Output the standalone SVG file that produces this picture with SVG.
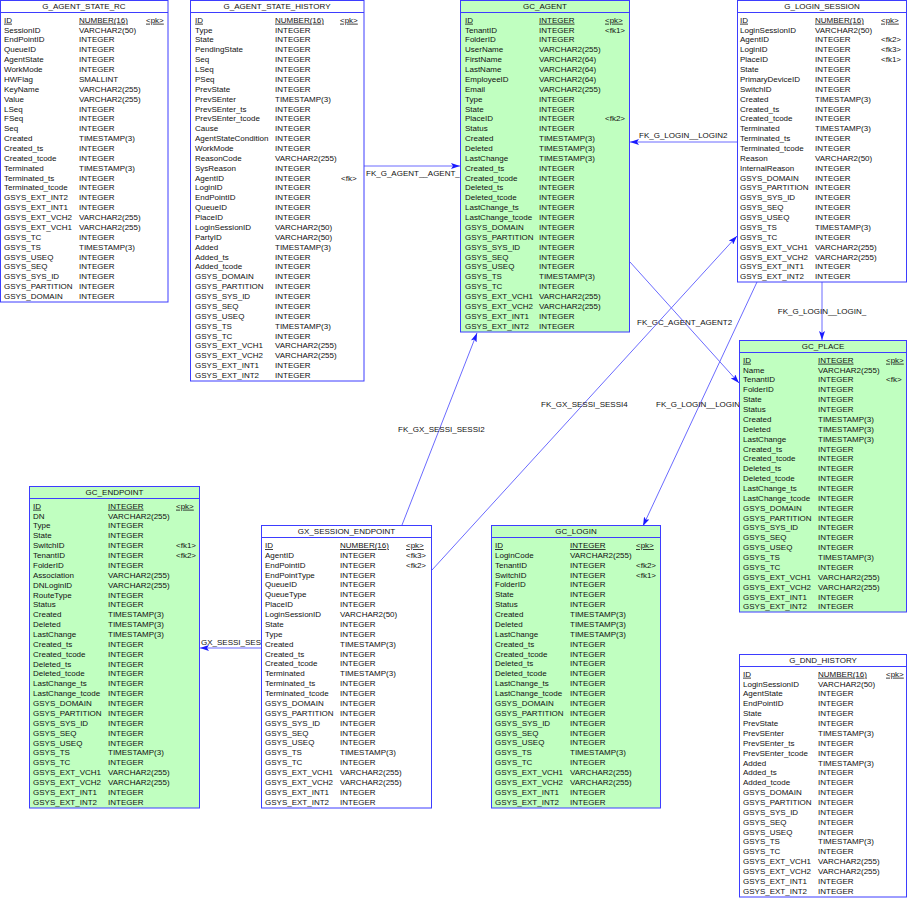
<svg xmlns="http://www.w3.org/2000/svg" width="907" height="899" viewBox="0 0 907 899">
<style>
text{font-family:"Liberation Sans",Arial,sans-serif;font-size:8px;fill:#111}
.tb{fill:#fff;stroke:#3d3dff;stroke-width:1}
.g .tb{fill:#c0ffc0}
.hl{stroke:#3d3dff;stroke-width:1}
.ti{text-anchor:middle}
.u{text-decoration:underline}
.c{stroke:#6b6bff;stroke-width:1;fill:none;marker-end:url(#ah)}
.lb{fill:#111}
</style>
<defs>
<marker id="ah" markerWidth="9" markerHeight="6" refX="9" refY="3" orient="auto" markerUnits="userSpaceOnUse"><path d="M0,0 L9,3 L0,6 L2,3 z" fill="#1a1aff"/></marker>
</defs>
<rect width="907" height="899" fill="#fff"/>
<g id="connectors">
<line class="c" x1="364" y1="166" x2="460" y2="166"/>
<text class="lb" x="366" y="176">FK_G_AGENT__AGENT_</text>
<line class="c" x1="737" y1="142" x2="630" y2="142"/>
<text class="lb" x="639" y="138">FK_G_LOGIN__LOGIN2</text>
<line class="c" x1="630" y1="262" x2="739" y2="383"/>
<text class="lb" x="637" y="325">FK_GC_AGENT_AGENT2</text>
<line class="c" x1="432" y1="570" x2="737" y2="236"/>
<text class="lb" x="541" y="407">FK_GX_SESSI_SESSI4</text>
<line class="c" x1="757" y1="282" x2="643" y2="526"/>
<text class="lb" x="656" y="407">FK_G_LOGIN__LOGIN</text>
<line class="c" x1="822" y1="282" x2="822" y2="340"/>
<text class="lb ti" x="822" y="314">FK_G_LOGIN__LOGIN_</text>
<line class="c" x1="402" y1="525" x2="477" y2="333"/>
<text class="lb" x="398" y="432">FK_GX_SESSI_SESSI2</text>
<line class="c" x1="261" y1="648" x2="200" y2="648"/>
<text class="lb" x="201" y="645">GX_SESSI_SES</text>
</g>

<g id="G_AGENT_STATE_RC">
<rect class="tb" x="0.5" y="0.5" width="167.5" height="301.5"/>
<line class="hl" x1="0.5" y1="12.5" x2="168" y2="12.5"/>
<text class="ti" x="84" y="9.3">G_AGENT_STATE_RC</text>
<text x="4" y="22.7"><tspan class="u">ID</tspan><tspan x="4" dy="9.87">SessionID</tspan><tspan x="4" dy="9.87">EndPointID</tspan><tspan x="4" dy="9.87">QueueID</tspan><tspan x="4" dy="9.87">AgentState</tspan><tspan x="4" dy="9.87">WorkMode</tspan><tspan x="4" dy="9.87">HWFlag</tspan><tspan x="4" dy="9.87">KeyName</tspan><tspan x="4" dy="9.87">Value</tspan><tspan x="4" dy="9.87">LSeq</tspan><tspan x="4" dy="9.87">FSeq</tspan><tspan x="4" dy="9.87">Seq</tspan><tspan x="4" dy="9.87">Created</tspan><tspan x="4" dy="9.87">Created_ts</tspan><tspan x="4" dy="9.87">Created_tcode</tspan><tspan x="4" dy="9.87">Terminated</tspan><tspan x="4" dy="9.87">Terminated_ts</tspan><tspan x="4" dy="9.87">Terminated_tcode</tspan><tspan x="4" dy="9.87">GSYS_EXT_INT2</tspan><tspan x="4" dy="9.87">GSYS_EXT_INT1</tspan><tspan x="4" dy="9.87">GSYS_EXT_VCH2</tspan><tspan x="4" dy="9.87">GSYS_EXT_VCH1</tspan><tspan x="4" dy="9.87">GSYS_TC</tspan><tspan x="4" dy="9.87">GSYS_TS</tspan><tspan x="4" dy="9.87">GSYS_USEQ</tspan><tspan x="4" dy="9.87">GSYS_SEQ</tspan><tspan x="4" dy="9.87">GSYS_SYS_ID</tspan><tspan x="4" dy="9.87">GSYS_PARTITION</tspan><tspan x="4" dy="9.87">GSYS_DOMAIN</tspan></text>
<text x="79" y="22.7"><tspan class="u">NUMBER(16)</tspan><tspan x="79" dy="9.87">VARCHAR2(50)</tspan><tspan x="79" dy="9.87">INTEGER</tspan><tspan x="79" dy="9.87">INTEGER</tspan><tspan x="79" dy="9.87">INTEGER</tspan><tspan x="79" dy="9.87">INTEGER</tspan><tspan x="79" dy="9.87">SMALLINT</tspan><tspan x="79" dy="9.87">VARCHAR2(255)</tspan><tspan x="79" dy="9.87">VARCHAR2(255)</tspan><tspan x="79" dy="9.87">INTEGER</tspan><tspan x="79" dy="9.87">INTEGER</tspan><tspan x="79" dy="9.87">INTEGER</tspan><tspan x="79" dy="9.87">TIMESTAMP(3)</tspan><tspan x="79" dy="9.87">INTEGER</tspan><tspan x="79" dy="9.87">INTEGER</tspan><tspan x="79" dy="9.87">TIMESTAMP(3)</tspan><tspan x="79" dy="9.87">INTEGER</tspan><tspan x="79" dy="9.87">INTEGER</tspan><tspan x="79" dy="9.87">INTEGER</tspan><tspan x="79" dy="9.87">INTEGER</tspan><tspan x="79" dy="9.87">VARCHAR2(255)</tspan><tspan x="79" dy="9.87">VARCHAR2(255)</tspan><tspan x="79" dy="9.87">INTEGER</tspan><tspan x="79" dy="9.87">TIMESTAMP(3)</tspan><tspan x="79" dy="9.87">INTEGER</tspan><tspan x="79" dy="9.87">INTEGER</tspan><tspan x="79" dy="9.87">INTEGER</tspan><tspan x="79" dy="9.87">INTEGER</tspan><tspan x="79" dy="9.87">INTEGER</tspan></text>
<text class="u" x="146" y="22.7">&lt;pk&gt;</text>
</g>

<g id="G_AGENT_STATE_HISTORY">
<rect class="tb" x="190.5" y="0.5" width="173.5" height="380.5"/>
<line class="hl" x1="190.5" y1="12.5" x2="364" y2="12.5"/>
<text class="ti" x="277" y="9.3">G_AGENT_STATE_HISTORY</text>
<text x="195" y="22.7"><tspan class="u">ID</tspan><tspan x="195" dy="9.87">Type</tspan><tspan x="195" dy="9.87">State</tspan><tspan x="195" dy="9.87">PendingState</tspan><tspan x="195" dy="9.87">Seq</tspan><tspan x="195" dy="9.87">LSeq</tspan><tspan x="195" dy="9.87">PSeq</tspan><tspan x="195" dy="9.87">PrevState</tspan><tspan x="195" dy="9.87">PrevSEnter</tspan><tspan x="195" dy="9.87">PrevSEnter_ts</tspan><tspan x="195" dy="9.87">PrevSEnter_tcode</tspan><tspan x="195" dy="9.87">Cause</tspan><tspan x="195" dy="9.87">AgentStateCondition</tspan><tspan x="195" dy="9.87">WorkMode</tspan><tspan x="195" dy="9.87">ReasonCode</tspan><tspan x="195" dy="9.87">SysReason</tspan><tspan x="195" dy="9.87">AgentID</tspan><tspan x="195" dy="9.87">LoginID</tspan><tspan x="195" dy="9.87">EndPointID</tspan><tspan x="195" dy="9.87">QueueID</tspan><tspan x="195" dy="9.87">PlaceID</tspan><tspan x="195" dy="9.87">LoginSessionID</tspan><tspan x="195" dy="9.87">PartyID</tspan><tspan x="195" dy="9.87">Added</tspan><tspan x="195" dy="9.87">Added_ts</tspan><tspan x="195" dy="9.87">Added_tcode</tspan><tspan x="195" dy="9.87">GSYS_DOMAIN</tspan><tspan x="195" dy="9.87">GSYS_PARTITION</tspan><tspan x="195" dy="9.87">GSYS_SYS_ID</tspan><tspan x="195" dy="9.87">GSYS_SEQ</tspan><tspan x="195" dy="9.87">GSYS_USEQ</tspan><tspan x="195" dy="9.87">GSYS_TS</tspan><tspan x="195" dy="9.87">GSYS_TC</tspan><tspan x="195" dy="9.87">GSYS_EXT_VCH1</tspan><tspan x="195" dy="9.87">GSYS_EXT_VCH2</tspan><tspan x="195" dy="9.87">GSYS_EXT_INT1</tspan><tspan x="195" dy="9.87">GSYS_EXT_INT2</tspan></text>
<text x="275" y="22.7"><tspan class="u">NUMBER(16)</tspan><tspan x="275" dy="9.87">INTEGER</tspan><tspan x="275" dy="9.87">INTEGER</tspan><tspan x="275" dy="9.87">INTEGER</tspan><tspan x="275" dy="9.87">INTEGER</tspan><tspan x="275" dy="9.87">INTEGER</tspan><tspan x="275" dy="9.87">INTEGER</tspan><tspan x="275" dy="9.87">INTEGER</tspan><tspan x="275" dy="9.87">TIMESTAMP(3)</tspan><tspan x="275" dy="9.87">INTEGER</tspan><tspan x="275" dy="9.87">INTEGER</tspan><tspan x="275" dy="9.87">INTEGER</tspan><tspan x="275" dy="9.87">INTEGER</tspan><tspan x="275" dy="9.87">INTEGER</tspan><tspan x="275" dy="9.87">VARCHAR2(255)</tspan><tspan x="275" dy="9.87">INTEGER</tspan><tspan x="275" dy="9.87">INTEGER</tspan><tspan x="275" dy="9.87">INTEGER</tspan><tspan x="275" dy="9.87">INTEGER</tspan><tspan x="275" dy="9.87">INTEGER</tspan><tspan x="275" dy="9.87">INTEGER</tspan><tspan x="275" dy="9.87">VARCHAR2(50)</tspan><tspan x="275" dy="9.87">VARCHAR2(50)</tspan><tspan x="275" dy="9.87">TIMESTAMP(3)</tspan><tspan x="275" dy="9.87">INTEGER</tspan><tspan x="275" dy="9.87">INTEGER</tspan><tspan x="275" dy="9.87">INTEGER</tspan><tspan x="275" dy="9.87">INTEGER</tspan><tspan x="275" dy="9.87">INTEGER</tspan><tspan x="275" dy="9.87">INTEGER</tspan><tspan x="275" dy="9.87">INTEGER</tspan><tspan x="275" dy="9.87">TIMESTAMP(3)</tspan><tspan x="275" dy="9.87">INTEGER</tspan><tspan x="275" dy="9.87">VARCHAR2(255)</tspan><tspan x="275" dy="9.87">VARCHAR2(255)</tspan><tspan x="275" dy="9.87">INTEGER</tspan><tspan x="275" dy="9.87">INTEGER</tspan></text>
<text class="u" x="340" y="22.7">&lt;pk&gt;</text>
<text x="341" y="180.6">&lt;fk&gt;</text>
</g>

<g id="GC_AGENT" class="g">
<rect class="tb" x="460.5" y="0.5" width="169" height="331.5"/>
<line class="hl" x1="460.5" y1="12.5" x2="629.5" y2="12.5"/>
<text class="ti" x="545" y="9.3">GC_AGENT</text>
<text x="465" y="22.7"><tspan class="u">ID</tspan><tspan x="465" dy="9.87">TenantID</tspan><tspan x="465" dy="9.87">FolderID</tspan><tspan x="465" dy="9.87">UserName</tspan><tspan x="465" dy="9.87">FirstName</tspan><tspan x="465" dy="9.87">LastName</tspan><tspan x="465" dy="9.87">EmployeeID</tspan><tspan x="465" dy="9.87">Email</tspan><tspan x="465" dy="9.87">Type</tspan><tspan x="465" dy="9.87">State</tspan><tspan x="465" dy="9.87">PlaceID</tspan><tspan x="465" dy="9.87">Status</tspan><tspan x="465" dy="9.87">Created</tspan><tspan x="465" dy="9.87">Deleted</tspan><tspan x="465" dy="9.87">LastChange</tspan><tspan x="465" dy="9.87">Created_ts</tspan><tspan x="465" dy="9.87">Created_tcode</tspan><tspan x="465" dy="9.87">Deleted_ts</tspan><tspan x="465" dy="9.87">Deleted_tcode</tspan><tspan x="465" dy="9.87">LastChange_ts</tspan><tspan x="465" dy="9.87">LastChange_tcode</tspan><tspan x="465" dy="9.87">GSYS_DOMAIN</tspan><tspan x="465" dy="9.87">GSYS_PARTITION</tspan><tspan x="465" dy="9.87">GSYS_SYS_ID</tspan><tspan x="465" dy="9.87">GSYS_SEQ</tspan><tspan x="465" dy="9.87">GSYS_USEQ</tspan><tspan x="465" dy="9.87">GSYS_TS</tspan><tspan x="465" dy="9.87">GSYS_TC</tspan><tspan x="465" dy="9.87">GSYS_EXT_VCH1</tspan><tspan x="465" dy="9.87">GSYS_EXT_VCH2</tspan><tspan x="465" dy="9.87">GSYS_EXT_INT1</tspan><tspan x="465" dy="9.87">GSYS_EXT_INT2</tspan></text>
<text x="539" y="22.7"><tspan class="u">INTEGER</tspan><tspan x="539" dy="9.87">INTEGER</tspan><tspan x="539" dy="9.87">INTEGER</tspan><tspan x="539" dy="9.87">VARCHAR2(255)</tspan><tspan x="539" dy="9.87">VARCHAR2(64)</tspan><tspan x="539" dy="9.87">VARCHAR2(64)</tspan><tspan x="539" dy="9.87">VARCHAR2(64)</tspan><tspan x="539" dy="9.87">VARCHAR2(255)</tspan><tspan x="539" dy="9.87">INTEGER</tspan><tspan x="539" dy="9.87">INTEGER</tspan><tspan x="539" dy="9.87">INTEGER</tspan><tspan x="539" dy="9.87">INTEGER</tspan><tspan x="539" dy="9.87">TIMESTAMP(3)</tspan><tspan x="539" dy="9.87">TIMESTAMP(3)</tspan><tspan x="539" dy="9.87">TIMESTAMP(3)</tspan><tspan x="539" dy="9.87">INTEGER</tspan><tspan x="539" dy="9.87">INTEGER</tspan><tspan x="539" dy="9.87">INTEGER</tspan><tspan x="539" dy="9.87">INTEGER</tspan><tspan x="539" dy="9.87">INTEGER</tspan><tspan x="539" dy="9.87">INTEGER</tspan><tspan x="539" dy="9.87">INTEGER</tspan><tspan x="539" dy="9.87">INTEGER</tspan><tspan x="539" dy="9.87">INTEGER</tspan><tspan x="539" dy="9.87">INTEGER</tspan><tspan x="539" dy="9.87">INTEGER</tspan><tspan x="539" dy="9.87">TIMESTAMP(3)</tspan><tspan x="539" dy="9.87">INTEGER</tspan><tspan x="539" dy="9.87">VARCHAR2(255)</tspan><tspan x="539" dy="9.87">VARCHAR2(255)</tspan><tspan x="539" dy="9.87">INTEGER</tspan><tspan x="539" dy="9.87">INTEGER</tspan></text>
<text class="u" x="605" y="22.7">&lt;pk&gt;</text>
<text x="605" y="32.57">&lt;fk1&gt;</text>
<text x="605" y="121.4">&lt;fk2&gt;</text>
</g>

<g id="G_LOGIN_SESSION">
<rect class="tb" x="737.5" y="0.5" width="169" height="281.5"/>
<line class="hl" x1="737.5" y1="12.5" x2="906.5" y2="12.5"/>
<text class="ti" x="822" y="9.3">G_LOGIN_SESSION</text>
<text x="740" y="22.7"><tspan class="u">ID</tspan><tspan x="740" dy="9.87">LoginSessionID</tspan><tspan x="740" dy="9.87">AgentID</tspan><tspan x="740" dy="9.87">LoginID</tspan><tspan x="740" dy="9.87">PlaceID</tspan><tspan x="740" dy="9.87">State</tspan><tspan x="740" dy="9.87">PrimaryDeviceID</tspan><tspan x="740" dy="9.87">SwitchID</tspan><tspan x="740" dy="9.87">Created</tspan><tspan x="740" dy="9.87">Created_ts</tspan><tspan x="740" dy="9.87">Created_tcode</tspan><tspan x="740" dy="9.87">Terminated</tspan><tspan x="740" dy="9.87">Terminated_ts</tspan><tspan x="740" dy="9.87">Terminated_tcode</tspan><tspan x="740" dy="9.87">Reason</tspan><tspan x="740" dy="9.87">InternalReason</tspan><tspan x="740" dy="9.87">GSYS_DOMAIN</tspan><tspan x="740" dy="9.87">GSYS_PARTITION</tspan><tspan x="740" dy="9.87">GSYS_SYS_ID</tspan><tspan x="740" dy="9.87">GSYS_SEQ</tspan><tspan x="740" dy="9.87">GSYS_USEQ</tspan><tspan x="740" dy="9.87">GSYS_TS</tspan><tspan x="740" dy="9.87">GSYS_TC</tspan><tspan x="740" dy="9.87">GSYS_EXT_VCH1</tspan><tspan x="740" dy="9.87">GSYS_EXT_VCH2</tspan><tspan x="740" dy="9.87">GSYS_EXT_INT1</tspan><tspan x="740" dy="9.87">GSYS_EXT_INT2</tspan></text>
<text x="815" y="22.7"><tspan class="u">NUMBER(16)</tspan><tspan x="815" dy="9.87">VARCHAR2(50)</tspan><tspan x="815" dy="9.87">INTEGER</tspan><tspan x="815" dy="9.87">INTEGER</tspan><tspan x="815" dy="9.87">INTEGER</tspan><tspan x="815" dy="9.87">INTEGER</tspan><tspan x="815" dy="9.87">INTEGER</tspan><tspan x="815" dy="9.87">INTEGER</tspan><tspan x="815" dy="9.87">TIMESTAMP(3)</tspan><tspan x="815" dy="9.87">INTEGER</tspan><tspan x="815" dy="9.87">INTEGER</tspan><tspan x="815" dy="9.87">TIMESTAMP(3)</tspan><tspan x="815" dy="9.87">INTEGER</tspan><tspan x="815" dy="9.87">INTEGER</tspan><tspan x="815" dy="9.87">VARCHAR2(50)</tspan><tspan x="815" dy="9.87">INTEGER</tspan><tspan x="815" dy="9.87">INTEGER</tspan><tspan x="815" dy="9.87">INTEGER</tspan><tspan x="815" dy="9.87">INTEGER</tspan><tspan x="815" dy="9.87">INTEGER</tspan><tspan x="815" dy="9.87">INTEGER</tspan><tspan x="815" dy="9.87">TIMESTAMP(3)</tspan><tspan x="815" dy="9.87">INTEGER</tspan><tspan x="815" dy="9.87">VARCHAR2(255)</tspan><tspan x="815" dy="9.87">VARCHAR2(255)</tspan><tspan x="815" dy="9.87">INTEGER</tspan><tspan x="815" dy="9.87">INTEGER</tspan></text>
<text class="u" x="881" y="22.7">&lt;pk&gt;</text>
<text x="881" y="42.44">&lt;fk2&gt;</text>
<text x="881" y="52.31">&lt;fk3&gt;</text>
<text x="881" y="62.18">&lt;fk1&gt;</text>
</g>

<g id="GC_PLACE" class="g">
<rect class="tb" x="739.5" y="340.5" width="167" height="271.5"/>
<line class="hl" x1="739.5" y1="352.5" x2="906.5" y2="352.5"/>
<text class="ti" x="823" y="349.3">GC_PLACE</text>
<text x="743" y="362.7"><tspan class="u">ID</tspan><tspan x="743" dy="9.87">Name</tspan><tspan x="743" dy="9.87">TenantID</tspan><tspan x="743" dy="9.87">FolderID</tspan><tspan x="743" dy="9.87">State</tspan><tspan x="743" dy="9.87">Status</tspan><tspan x="743" dy="9.87">Created</tspan><tspan x="743" dy="9.87">Deleted</tspan><tspan x="743" dy="9.87">LastChange</tspan><tspan x="743" dy="9.87">Created_ts</tspan><tspan x="743" dy="9.87">Created_tcode</tspan><tspan x="743" dy="9.87">Deleted_ts</tspan><tspan x="743" dy="9.87">Deleted_tcode</tspan><tspan x="743" dy="9.87">LastChange_ts</tspan><tspan x="743" dy="9.87">LastChange_tcode</tspan><tspan x="743" dy="9.87">GSYS_DOMAIN</tspan><tspan x="743" dy="9.87">GSYS_PARTITION</tspan><tspan x="743" dy="9.87">GSYS_SYS_ID</tspan><tspan x="743" dy="9.87">GSYS_SEQ</tspan><tspan x="743" dy="9.87">GSYS_USEQ</tspan><tspan x="743" dy="9.87">GSYS_TS</tspan><tspan x="743" dy="9.87">GSYS_TC</tspan><tspan x="743" dy="9.87">GSYS_EXT_VCH1</tspan><tspan x="743" dy="9.87">GSYS_EXT_VCH2</tspan><tspan x="743" dy="9.87">GSYS_EXT_INT1</tspan><tspan x="743" dy="9.87">GSYS_EXT_INT2</tspan></text>
<text x="818" y="362.7"><tspan class="u">INTEGER</tspan><tspan x="818" dy="9.87">VARCHAR2(255)</tspan><tspan x="818" dy="9.87">INTEGER</tspan><tspan x="818" dy="9.87">INTEGER</tspan><tspan x="818" dy="9.87">INTEGER</tspan><tspan x="818" dy="9.87">INTEGER</tspan><tspan x="818" dy="9.87">TIMESTAMP(3)</tspan><tspan x="818" dy="9.87">TIMESTAMP(3)</tspan><tspan x="818" dy="9.87">TIMESTAMP(3)</tspan><tspan x="818" dy="9.87">INTEGER</tspan><tspan x="818" dy="9.87">INTEGER</tspan><tspan x="818" dy="9.87">INTEGER</tspan><tspan x="818" dy="9.87">INTEGER</tspan><tspan x="818" dy="9.87">INTEGER</tspan><tspan x="818" dy="9.87">INTEGER</tspan><tspan x="818" dy="9.87">INTEGER</tspan><tspan x="818" dy="9.87">INTEGER</tspan><tspan x="818" dy="9.87">INTEGER</tspan><tspan x="818" dy="9.87">INTEGER</tspan><tspan x="818" dy="9.87">INTEGER</tspan><tspan x="818" dy="9.87">TIMESTAMP(3)</tspan><tspan x="818" dy="9.87">INTEGER</tspan><tspan x="818" dy="9.87">VARCHAR2(255)</tspan><tspan x="818" dy="9.87">VARCHAR2(255)</tspan><tspan x="818" dy="9.87">INTEGER</tspan><tspan x="818" dy="9.87">INTEGER</tspan></text>
<text class="u" x="886" y="362.7">&lt;pk&gt;</text>
<text x="886" y="382.44">&lt;fk&gt;</text>
</g>

<g id="G_DND_HISTORY">
<rect class="tb" x="739.5" y="654.5" width="167" height="242.5"/>
<line class="hl" x1="739.5" y1="666.5" x2="906.5" y2="666.5"/>
<text class="ti" x="823" y="663.3">G_DND_HISTORY</text>
<text x="743" y="676.7"><tspan class="u">ID</tspan><tspan x="743" dy="9.87">LoginSessionID</tspan><tspan x="743" dy="9.87">AgentState</tspan><tspan x="743" dy="9.87">EndPointID</tspan><tspan x="743" dy="9.87">State</tspan><tspan x="743" dy="9.87">PrevState</tspan><tspan x="743" dy="9.87">PrevSEnter</tspan><tspan x="743" dy="9.87">PrevSEnter_ts</tspan><tspan x="743" dy="9.87">PrevSEnter_tcode</tspan><tspan x="743" dy="9.87">Added</tspan><tspan x="743" dy="9.87">Added_ts</tspan><tspan x="743" dy="9.87">Added_tcode</tspan><tspan x="743" dy="9.87">GSYS_DOMAIN</tspan><tspan x="743" dy="9.87">GSYS_PARTITION</tspan><tspan x="743" dy="9.87">GSYS_SYS_ID</tspan><tspan x="743" dy="9.87">GSYS_SEQ</tspan><tspan x="743" dy="9.87">GSYS_USEQ</tspan><tspan x="743" dy="9.87">GSYS_TS</tspan><tspan x="743" dy="9.87">GSYS_TC</tspan><tspan x="743" dy="9.87">GSYS_EXT_VCH1</tspan><tspan x="743" dy="9.87">GSYS_EXT_VCH2</tspan><tspan x="743" dy="9.87">GSYS_EXT_INT1</tspan><tspan x="743" dy="9.87">GSYS_EXT_INT2</tspan></text>
<text x="818" y="676.7"><tspan class="u">NUMBER(16)</tspan><tspan x="818" dy="9.87">VARCHAR2(50)</tspan><tspan x="818" dy="9.87">INTEGER</tspan><tspan x="818" dy="9.87">INTEGER</tspan><tspan x="818" dy="9.87">INTEGER</tspan><tspan x="818" dy="9.87">INTEGER</tspan><tspan x="818" dy="9.87">TIMESTAMP(3)</tspan><tspan x="818" dy="9.87">INTEGER</tspan><tspan x="818" dy="9.87">INTEGER</tspan><tspan x="818" dy="9.87">TIMESTAMP(3)</tspan><tspan x="818" dy="9.87">INTEGER</tspan><tspan x="818" dy="9.87">INTEGER</tspan><tspan x="818" dy="9.87">INTEGER</tspan><tspan x="818" dy="9.87">INTEGER</tspan><tspan x="818" dy="9.87">INTEGER</tspan><tspan x="818" dy="9.87">INTEGER</tspan><tspan x="818" dy="9.87">INTEGER</tspan><tspan x="818" dy="9.87">TIMESTAMP(3)</tspan><tspan x="818" dy="9.87">INTEGER</tspan><tspan x="818" dy="9.87">VARCHAR2(255)</tspan><tspan x="818" dy="9.87">VARCHAR2(255)</tspan><tspan x="818" dy="9.87">INTEGER</tspan><tspan x="818" dy="9.87">INTEGER</tspan></text>
<text class="u" x="886" y="676.7">&lt;pk&gt;</text>
</g>

<g id="GC_ENDPOINT" class="g">
<rect class="tb" x="29.5" y="486.5" width="170" height="321.5"/>
<line class="hl" x1="29.5" y1="498.5" x2="199.5" y2="498.5"/>
<text class="ti" x="114.5" y="495.3">GC_ENDPOINT</text>
<text x="33" y="508.7"><tspan class="u">ID</tspan><tspan x="33" dy="9.87">DN</tspan><tspan x="33" dy="9.87">Type</tspan><tspan x="33" dy="9.87">State</tspan><tspan x="33" dy="9.87">SwitchID</tspan><tspan x="33" dy="9.87">TenantID</tspan><tspan x="33" dy="9.87">FolderID</tspan><tspan x="33" dy="9.87">Association</tspan><tspan x="33" dy="9.87">DNLoginID</tspan><tspan x="33" dy="9.87">RouteType</tspan><tspan x="33" dy="9.87">Status</tspan><tspan x="33" dy="9.87">Created</tspan><tspan x="33" dy="9.87">Deleted</tspan><tspan x="33" dy="9.87">LastChange</tspan><tspan x="33" dy="9.87">Created_ts</tspan><tspan x="33" dy="9.87">Created_tcode</tspan><tspan x="33" dy="9.87">Deleted_ts</tspan><tspan x="33" dy="9.87">Deleted_tcode</tspan><tspan x="33" dy="9.87">LastChange_ts</tspan><tspan x="33" dy="9.87">LastChange_tcode</tspan><tspan x="33" dy="9.87">GSYS_DOMAIN</tspan><tspan x="33" dy="9.87">GSYS_PARTITION</tspan><tspan x="33" dy="9.87">GSYS_SYS_ID</tspan><tspan x="33" dy="9.87">GSYS_SEQ</tspan><tspan x="33" dy="9.87">GSYS_USEQ</tspan><tspan x="33" dy="9.87">GSYS_TS</tspan><tspan x="33" dy="9.87">GSYS_TC</tspan><tspan x="33" dy="9.87">GSYS_EXT_VCH1</tspan><tspan x="33" dy="9.87">GSYS_EXT_VCH2</tspan><tspan x="33" dy="9.87">GSYS_EXT_INT1</tspan><tspan x="33" dy="9.87">GSYS_EXT_INT2</tspan></text>
<text x="108" y="508.7"><tspan class="u">INTEGER</tspan><tspan x="108" dy="9.87">VARCHAR2(255)</tspan><tspan x="108" dy="9.87">INTEGER</tspan><tspan x="108" dy="9.87">INTEGER</tspan><tspan x="108" dy="9.87">INTEGER</tspan><tspan x="108" dy="9.87">INTEGER</tspan><tspan x="108" dy="9.87">INTEGER</tspan><tspan x="108" dy="9.87">VARCHAR2(255)</tspan><tspan x="108" dy="9.87">VARCHAR2(255)</tspan><tspan x="108" dy="9.87">INTEGER</tspan><tspan x="108" dy="9.87">INTEGER</tspan><tspan x="108" dy="9.87">TIMESTAMP(3)</tspan><tspan x="108" dy="9.87">TIMESTAMP(3)</tspan><tspan x="108" dy="9.87">TIMESTAMP(3)</tspan><tspan x="108" dy="9.87">INTEGER</tspan><tspan x="108" dy="9.87">INTEGER</tspan><tspan x="108" dy="9.87">INTEGER</tspan><tspan x="108" dy="9.87">INTEGER</tspan><tspan x="108" dy="9.87">INTEGER</tspan><tspan x="108" dy="9.87">INTEGER</tspan><tspan x="108" dy="9.87">INTEGER</tspan><tspan x="108" dy="9.87">INTEGER</tspan><tspan x="108" dy="9.87">INTEGER</tspan><tspan x="108" dy="9.87">INTEGER</tspan><tspan x="108" dy="9.87">INTEGER</tspan><tspan x="108" dy="9.87">TIMESTAMP(3)</tspan><tspan x="108" dy="9.87">INTEGER</tspan><tspan x="108" dy="9.87">VARCHAR2(255)</tspan><tspan x="108" dy="9.87">VARCHAR2(255)</tspan><tspan x="108" dy="9.87">INTEGER</tspan><tspan x="108" dy="9.87">INTEGER</tspan></text>
<text class="u" x="176" y="508.7">&lt;pk&gt;</text>
<text x="176" y="548.18">&lt;fk1&gt;</text>
<text x="176" y="558.05">&lt;fk2&gt;</text>
</g>

<g id="GX_SESSION_ENDPOINT">
<rect class="tb" x="261.5" y="525.5" width="170" height="282.5"/>
<line class="hl" x1="261.5" y1="537.5" x2="431.5" y2="537.5"/>
<text class="ti" x="346.5" y="534.3">GX_SESSION_ENDPOINT</text>
<text x="265" y="548"><tspan class="u">ID</tspan><tspan x="265" dy="9.87">AgentID</tspan><tspan x="265" dy="9.87">EndPointID</tspan><tspan x="265" dy="9.87">EndPointType</tspan><tspan x="265" dy="9.87">QueueID</tspan><tspan x="265" dy="9.87">QueueType</tspan><tspan x="265" dy="9.87">PlaceID</tspan><tspan x="265" dy="9.87">LoginSessionID</tspan><tspan x="265" dy="9.87">State</tspan><tspan x="265" dy="9.87">Type</tspan><tspan x="265" dy="9.87">Created</tspan><tspan x="265" dy="9.87">Created_ts</tspan><tspan x="265" dy="9.87">Created_tcode</tspan><tspan x="265" dy="9.87">Terminated</tspan><tspan x="265" dy="9.87">Terminated_ts</tspan><tspan x="265" dy="9.87">Terminated_tcode</tspan><tspan x="265" dy="9.87">GSYS_DOMAIN</tspan><tspan x="265" dy="9.87">GSYS_PARTITION</tspan><tspan x="265" dy="9.87">GSYS_SYS_ID</tspan><tspan x="265" dy="9.87">GSYS_SEQ</tspan><tspan x="265" dy="9.87">GSYS_USEQ</tspan><tspan x="265" dy="9.87">GSYS_TS</tspan><tspan x="265" dy="9.87">GSYS_TC</tspan><tspan x="265" dy="9.87">GSYS_EXT_VCH1</tspan><tspan x="265" dy="9.87">GSYS_EXT_VCH2</tspan><tspan x="265" dy="9.87">GSYS_EXT_INT1</tspan><tspan x="265" dy="9.87">GSYS_EXT_INT2</tspan></text>
<text x="340" y="548"><tspan class="u">NUMBER(16)</tspan><tspan x="340" dy="9.87">INTEGER</tspan><tspan x="340" dy="9.87">INTEGER</tspan><tspan x="340" dy="9.87">INTEGER</tspan><tspan x="340" dy="9.87">INTEGER</tspan><tspan x="340" dy="9.87">INTEGER</tspan><tspan x="340" dy="9.87">INTEGER</tspan><tspan x="340" dy="9.87">VARCHAR2(50)</tspan><tspan x="340" dy="9.87">INTEGER</tspan><tspan x="340" dy="9.87">INTEGER</tspan><tspan x="340" dy="9.87">TIMESTAMP(3)</tspan><tspan x="340" dy="9.87">INTEGER</tspan><tspan x="340" dy="9.87">INTEGER</tspan><tspan x="340" dy="9.87">TIMESTAMP(3)</tspan><tspan x="340" dy="9.87">INTEGER</tspan><tspan x="340" dy="9.87">INTEGER</tspan><tspan x="340" dy="9.87">INTEGER</tspan><tspan x="340" dy="9.87">INTEGER</tspan><tspan x="340" dy="9.87">INTEGER</tspan><tspan x="340" dy="9.87">INTEGER</tspan><tspan x="340" dy="9.87">INTEGER</tspan><tspan x="340" dy="9.87">TIMESTAMP(3)</tspan><tspan x="340" dy="9.87">INTEGER</tspan><tspan x="340" dy="9.87">VARCHAR2(255)</tspan><tspan x="340" dy="9.87">VARCHAR2(255)</tspan><tspan x="340" dy="9.87">INTEGER</tspan><tspan x="340" dy="9.87">INTEGER</tspan></text>
<text class="u" x="406" y="548">&lt;pk&gt;</text>
<text x="406" y="557.87">&lt;fk3&gt;</text>
<text x="406" y="567.74">&lt;fk2&gt;</text>
</g>

<g id="GC_LOGIN" class="g">
<rect class="tb" x="491.5" y="525.5" width="169" height="282.5"/>
<line class="hl" x1="491.5" y1="537.5" x2="660.5" y2="537.5"/>
<text class="ti" x="576" y="534.3">GC_LOGIN</text>
<text x="495" y="548"><tspan class="u">ID</tspan><tspan x="495" dy="9.87">LoginCode</tspan><tspan x="495" dy="9.87">TenantID</tspan><tspan x="495" dy="9.87">SwitchID</tspan><tspan x="495" dy="9.87">FolderID</tspan><tspan x="495" dy="9.87">State</tspan><tspan x="495" dy="9.87">Status</tspan><tspan x="495" dy="9.87">Created</tspan><tspan x="495" dy="9.87">Deleted</tspan><tspan x="495" dy="9.87">LastChange</tspan><tspan x="495" dy="9.87">Created_ts</tspan><tspan x="495" dy="9.87">Created_tcode</tspan><tspan x="495" dy="9.87">Deleted_ts</tspan><tspan x="495" dy="9.87">Deleted_tcode</tspan><tspan x="495" dy="9.87">LastChange_ts</tspan><tspan x="495" dy="9.87">LastChange_tcode</tspan><tspan x="495" dy="9.87">GSYS_DOMAIN</tspan><tspan x="495" dy="9.87">GSYS_PARTITION</tspan><tspan x="495" dy="9.87">GSYS_SYS_ID</tspan><tspan x="495" dy="9.87">GSYS_SEQ</tspan><tspan x="495" dy="9.87">GSYS_USEQ</tspan><tspan x="495" dy="9.87">GSYS_TS</tspan><tspan x="495" dy="9.87">GSYS_TC</tspan><tspan x="495" dy="9.87">GSYS_EXT_VCH1</tspan><tspan x="495" dy="9.87">GSYS_EXT_VCH2</tspan><tspan x="495" dy="9.87">GSYS_EXT_INT1</tspan><tspan x="495" dy="9.87">GSYS_EXT_INT2</tspan></text>
<text x="570" y="548"><tspan class="u">INTEGER</tspan><tspan x="570" dy="9.87">VARCHAR2(255)</tspan><tspan x="570" dy="9.87">INTEGER</tspan><tspan x="570" dy="9.87">INTEGER</tspan><tspan x="570" dy="9.87">INTEGER</tspan><tspan x="570" dy="9.87">INTEGER</tspan><tspan x="570" dy="9.87">INTEGER</tspan><tspan x="570" dy="9.87">TIMESTAMP(3)</tspan><tspan x="570" dy="9.87">TIMESTAMP(3)</tspan><tspan x="570" dy="9.87">TIMESTAMP(3)</tspan><tspan x="570" dy="9.87">INTEGER</tspan><tspan x="570" dy="9.87">INTEGER</tspan><tspan x="570" dy="9.87">INTEGER</tspan><tspan x="570" dy="9.87">INTEGER</tspan><tspan x="570" dy="9.87">INTEGER</tspan><tspan x="570" dy="9.87">INTEGER</tspan><tspan x="570" dy="9.87">INTEGER</tspan><tspan x="570" dy="9.87">INTEGER</tspan><tspan x="570" dy="9.87">INTEGER</tspan><tspan x="570" dy="9.87">INTEGER</tspan><tspan x="570" dy="9.87">INTEGER</tspan><tspan x="570" dy="9.87">TIMESTAMP(3)</tspan><tspan x="570" dy="9.87">INTEGER</tspan><tspan x="570" dy="9.87">VARCHAR2(255)</tspan><tspan x="570" dy="9.87">VARCHAR2(255)</tspan><tspan x="570" dy="9.87">INTEGER</tspan><tspan x="570" dy="9.87">INTEGER</tspan></text>
<text class="u" x="636" y="548">&lt;pk&gt;</text>
<text x="636" y="567.74">&lt;fk2&gt;</text>
<text x="636" y="577.61">&lt;fk1&gt;</text>
</g>
</svg>
